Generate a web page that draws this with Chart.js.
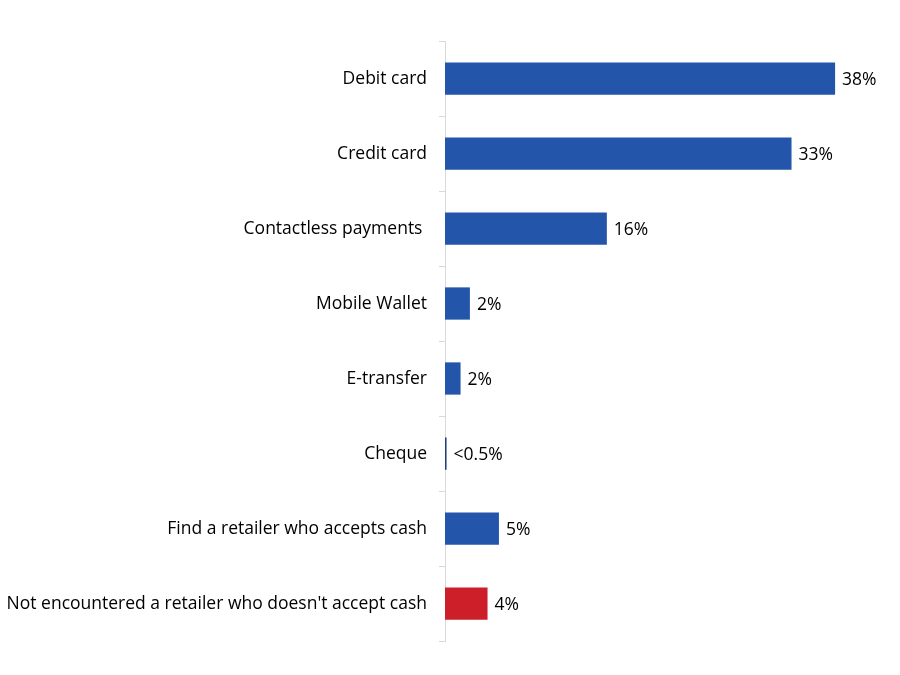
<!DOCTYPE html>
<html>
<head>
<meta charset="utf-8">
<script src="https://cdn.jsdelivr.net/npm/chart.js@4"></script>
<style>
  html, body { margin: 0; padding: 0; background: #fff; }
  #wrap { width: 900px; height: 675px; }
</style>
</head>
<body>
<div id="wrap"><canvas id="chart"></canvas></div>
<script>
const categories = [
  "Debit card",
  "Credit card",
  "Contactless payments ",
  "Mobile Wallet",
  "E-transfer",
  "Cheque",
  "Find a retailer who accepts cash",
  "Not encountered a retailer who doesn't accept cash",
];
const shares = [37.6, 33.4, 15.6, 2.4, 1.5, 0.15, 5.2, 4.1];
const shareLabels = ["38%", "33%", "16%", "2%", "2%", "<0.5%", "5%", "4%"];
const barColors = ["#2356AB", "#2356AB", "#2356AB", "#2356AB", "#2356AB", "#1F3F7A", "#2356AB", "#CC1F2A"];

const fontFamily = "'Open Sans', 'Noto Sans', sans-serif";

const valueLabels = {
  id: "valueLabels",
  afterDatasetsDraw(chart) {
    const ctx = chart.ctx;
    const meta = chart.getDatasetMeta(0);
    ctx.save();
    ctx.font = "17.5px " + fontFamily;
    ctx.fillStyle = "#000";
    ctx.textBaseline = "middle";
    ctx.textAlign = "left";
    meta.data.forEach((bar, i) => {
      ctx.fillText(shareLabels[i], bar.x + 7, bar.y + 2);
    });
    ctx.restore();
  },
};

new Chart(document.getElementById("chart"), {
  type: "bar",
  data: {
    labels: categories,
    datasets: [
      {
        data: shares,
        backgroundColor: barColors,
        barPercentage: 0.43,
        categoryPercentage: 1,
      },
    ],
  },
  options: {
    indexAxis: "y",
    responsive: true,
    maintainAspectRatio: false,
    animation: false,
    layout: { padding: { top: 41, bottom: 34, right: 40, left: 0 } },
    plugins: {
      legend: { display: false },
      tooltip: { enabled: false },
    },
    scales: {
      x: {
        display: false,
        min: 0,
        max: 40,
      },
      y: {
        afterFit(scale) {
          scale.width = 445;
        },
        border: { color: "#D9D9D9", width: 1 },
        grid: {
          offset: true,
          drawOnChartArea: false,
          color: "#D9D9D9",
          tickLength: 6,
        },
        ticks: {
          color: "#000",
          padding: 12,
          labelOffset: 1,
          font: { size: 17.5, family: fontFamily },
        },
      },
    },
  },
  plugins: [valueLabels],
});
</script>
</body>
</html>
